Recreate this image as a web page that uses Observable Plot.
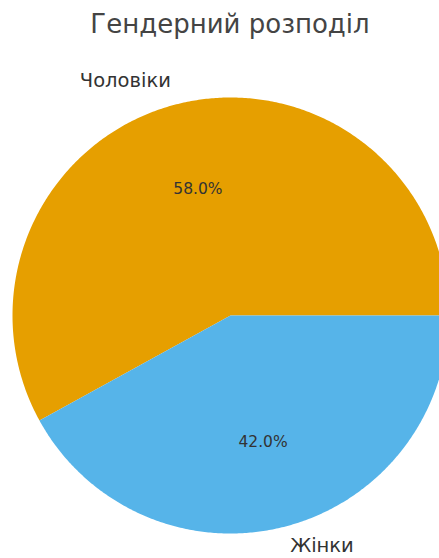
<!DOCTYPE html>
<html><head><meta charset="utf-8">
<script src="https://cdn.jsdelivr.net/npm/d3@7"></script>
<script src="https://cdn.jsdelivr.net/npm/@observablehq/plot@0.6"></script>
<style>body{margin:0;background:#fff;} svg{display:block;}</style>
</head><body><div id="chart"></div>
<script>
const title = "Гендерний розподіл";
const categories = ["Чоловіки", "Жінки"];
const values = [58, 42];
const colors = ["#E69F00", "#56B4E9"];

const W = 439, H = 558;
const cx = 230, cy = 315, R = 218;

const total = d3.sum(values);
let start = 0;
const slices = categories.map((c, i) => {
  const a0 = start, a1 = start + values[i] / total * 2 * Math.PI;
  start = a1;
  const mid = (a0 + a1) / 2;
  return {category: c, value: values[i], a0, a1, mid, pct: (values[i] / total * 100).toFixed(1) + "%",
    lx: 1.1 * Math.cos(mid), ly: 1.1 * Math.sin(mid), px: 0.6 * Math.cos(mid), py: 0.6 * Math.sin(mid)};
});
const pts = slices.flatMap(s => {
  const n = Math.max(2, Math.ceil((s.a1 - s.a0) / (Math.PI / 360)));
  const arr = [{category: s.category, x: 0, y: 0}];
  for (let k = 0; k <= n; k++) {
    const a = s.a0 + (s.a1 - s.a0) * k / n;
    arr.push({category: s.category, x: Math.cos(a), y: Math.sin(a)});
  }
  arr.push({category: s.category, x: 0, y: 0});
  return arr;
});

const font = "DejaVu Sans";
const chart = Plot.plot({
  width: W, height: H, margin: 0,
  style: {fontFamily: font, background: "#fff"},
  x: {domain: [-cx / R, (W - cx) / R], range: [0, W], axis: null},
  y: {domain: [-(H - cy) / R, cy / R], range: [H, 0], axis: null},
  color: {domain: categories, range: colors},
  marks: [
    Plot.line(pts, {x: "x", y: "y", z: "category", fill: "category", stroke: null, clip: true}),
    Plot.text(slices, {x: "px", y: "py", text: "pct", fontSize: 15.5, fill: "#333", lineAnchor: "middle"}),
    Plot.text(slices.filter(s => s.lx < 0), {x: "lx", y: "ly", text: "category", fontSize: 19.5, fill: "#333", textAnchor: "end", lineAnchor: "middle", dy: -2}),
    Plot.text(slices.filter(s => s.lx >= 0), {x: "lx", y: "ly", text: "category", fontSize: 19.5, fill: "#333", textAnchor: "start", lineAnchor: "middle", dy: -2}),
    Plot.text([title], {frameAnchor: "top", dx: 10, dy: 14, fontSize: 26, fill: "#444"})
  ]
});
document.getElementById("chart").appendChild(chart);
</script>
</body></html>
